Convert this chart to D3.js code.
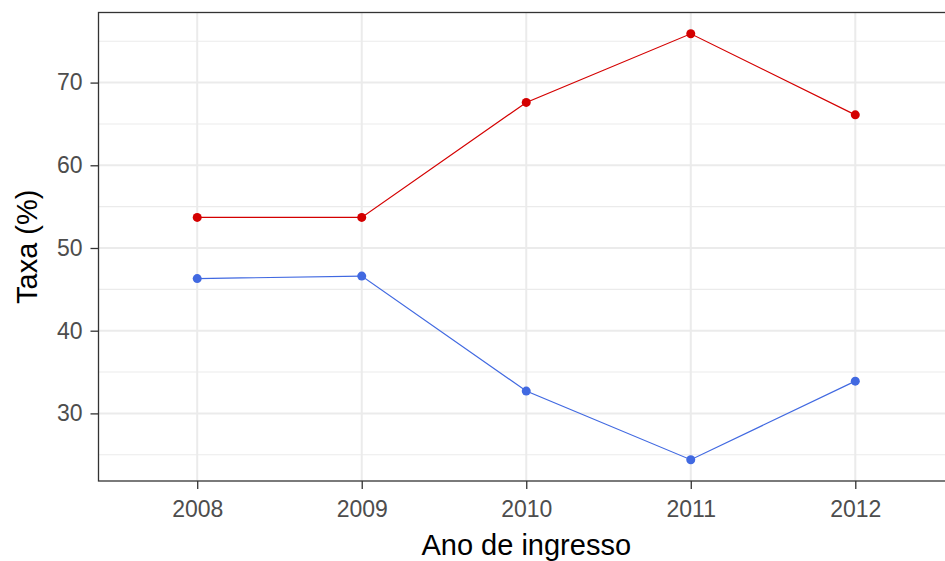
<!DOCTYPE html>
<html>
<head>
<meta charset="utf-8">
<script src="https://cdn.jsdelivr.net/npm/d3@7"></script>
<style>
  body { margin: 0; background: #fff; }
  text { font-family: "Liberation Sans", Arial, sans-serif; }
</style>
</head>
<body>
<svg id="chart" width="945" height="561"></svg>
<script>
const years = [2008, 2009, 2010, 2011, 2012];
const redValues = [53.7, 53.7, 67.6, 75.9, 66.1];
const blueValues = [46.3, 46.6, 32.7, 24.4, 33.9];
const yTicks = [30, 40, 50, 60, 70];
const yMinor = [25, 35, 45, 55, 65, 75];

const svg = d3.select("#chart");

// panel area (right edge runs past the picture, as in the reference)
const panelLeft = 98.5, panelRight = 954, panelTop = 12.5, panelBottom = 481;

const xScale = d3.scaleLinear().domain([2007.4, 2012.6]).range([panelLeft, panelRight]);
const yScale = d3.scaleLinear().domain([21.825, 78.475]).range([panelBottom, panelTop]);

// grid
const grid = svg.append("g");
grid.selectAll(".minor")
  .data(yMinor)
  .enter().append("line")
  .attr("x1", panelLeft).attr("x2", panelRight)
  .attr("y1", d => yScale(d)).attr("y2", d => yScale(d))
  .style("stroke", "#ebebeb").style("stroke-width", 1.1);
grid.selectAll(".major")
  .data(yTicks)
  .enter().append("line")
  .attr("x1", panelLeft).attr("x2", panelRight)
  .attr("y1", d => yScale(d)).attr("y2", d => yScale(d))
  .style("stroke", "#ebebeb").style("stroke-width", 2);
grid.selectAll(".vmajor")
  .data(years)
  .enter().append("line")
  .attr("y1", panelTop).attr("y2", panelBottom)
  .attr("x1", d => xScale(d)).attr("x2", d => xScale(d))
  .style("stroke", "#ebebeb").style("stroke-width", 2);

// lines and points
const line = d3.line()
  .x((d, i) => xScale(years[i]))
  .y(d => yScale(d));

function drawSeries(values, color) {
  svg.append("path")
    .datum(values)
    .attr("d", line)
    .style("fill", "none")
    .style("stroke", color)
    .style("stroke-width", 1.2);
  svg.selectAll(null)
    .data(values)
    .enter().append("circle")
    .attr("cx", (d, i) => xScale(years[i]))
    .attr("cy", d => yScale(d))
    .attr("r", 4.5)
    .style("fill", color);
}
drawSeries(redValues, "#d40000");
drawSeries(blueValues, "#4169e1");

// panel border
svg.append("rect")
  .attr("x", panelLeft).attr("y", panelTop)
  .attr("width", panelRight - panelLeft).attr("height", panelBottom - panelTop)
  .style("fill", "none").style("stroke", "#333333").style("stroke-width", 1.3);

// axes
const yAxis = svg.append("g")
  .attr("transform", "translate(" + panelLeft + ",0)")
  .call(d3.axisLeft(yScale).tickValues(yTicks).tickSize(8).tickPadding(8));
const xAxis = svg.append("g")
  .attr("transform", "translate(0," + panelBottom + ")")
  .call(d3.axisBottom(xScale).tickValues(years).tickFormat(d3.format("d")).tickSize(8).tickPadding(12));

[yAxis, xAxis].forEach(ax => {
  ax.select(".domain").remove();
  ax.selectAll(".tick line").style("stroke", "#333333").style("stroke-width", 1.3);
  ax.selectAll(".tick text")
    .style("fill", "#4d4d4d")
    .style("font-size", "23px")
    .style("font-family", "'Liberation Sans', Arial, sans-serif");
});

// axis titles
svg.append("text")
  .attr("x", (panelLeft + panelRight) / 2)
  .attr("y", 555)
  .attr("text-anchor", "middle")
  .style("font-size", "29px")
  .style("fill", "#000")
  .text("Ano de ingresso");

svg.append("text")
  .attr("transform", "translate(37," + (panelTop + panelBottom) / 2 + ") rotate(-90)")
  .attr("text-anchor", "middle")
  .style("font-size", "29px")
  .style("fill", "#000")
  .text("Taxa (%)");
</script>
</body>
</html>
